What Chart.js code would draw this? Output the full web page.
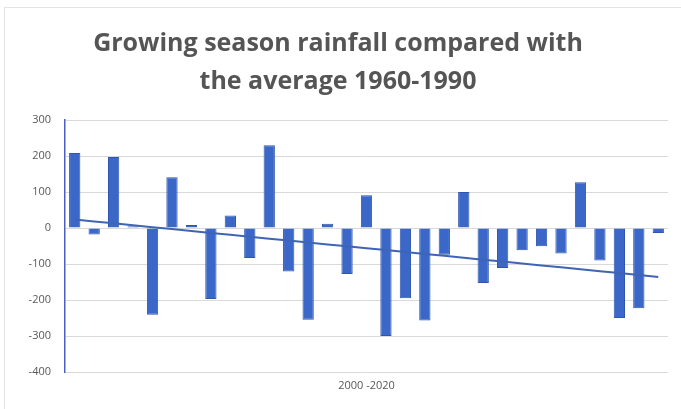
<!DOCTYPE html>
<html>
<head>
<meta charset="utf-8">
<style>
  html, body { margin: 0; padding: 0; background: #fff; }
  #wrap {
    position: absolute; left: 4px; top: 7px; width: 690px; height: 420px;
    border: 1px solid #e3e3e3; box-sizing: border-box;
  }
  canvas { position: absolute; left: 0; top: 0; }
</style>
</head>
<body>
<div id="wrap"></div>
<canvas id="rainChart" width="681" height="409"></canvas>

<script src="https://cdn.jsdelivr.net/npm/chart.js"></script>
<script>
  // seasons shown along the axis (labels are hidden in the original)
  const seasons = [
    "1", "2", "3", "4", "5", "6", "7", "8", "9", "10",
    "11", "12", "13", "14", "15", "16", "17", "18", "19", "20",
    "21", "22", "23", "24", "25", "26", "27", "28", "29", "30", "31",
  ];

  // rainfall difference from the 1960-1990 average (mm)
  const rainfallDiff = [
    208, -18, 197, 5, -241, 141, 8, -197, 35, -83,
    230, -121, -255, 12, -128, 91, -300, -195, -257, -74,
    100, -153, -111, -62, -51, -71, 127, -90, -250, -223, -14,
  ];

  const yTicks = [300, 200, 100, 0, -100, -200, -300, -400];
  const titleLines = ["Growing season rainfall compared with", "the average 1960-1990"];
  const axisTitle = "2000 -2020";

  // least squares trend line, like Excel's linear trendline
  const n = rainfallDiff.length;
  const mx = (n - 1) / 2;
  const my = rainfallDiff.reduce((a, b) => a + b, 0) / n;
  let sxy = 0, sxx = 0;
  rainfallDiff.forEach((v, i) => { sxy += (i - mx) * (v - my); sxx += (i - mx) * (i - mx); });
  const slope = sxy / sxx;
  const trend = rainfallDiff.map((v, i) => my + slope * (i - mx));

  const ctx = document.getElementById("rainChart").getContext("2d");

  new Chart(ctx, {
    data: {
      labels: seasons,
      datasets: [
        {
          type: "line",
          data: trend,
          borderColor: "#3f64b5",
          borderWidth: 2,
          pointRadius: 0,
          order: 0,
        },
        {
          type: "bar",
          data: rainfallDiff,
          backgroundColor: "#3a67c8",
          borderColor: "#2f56ab",
          borderWidth: 1,
          barPercentage: 0.58,
          categoryPercentage: 1,
          order: 1,
        },
      ],
    },
    options: {
      responsive: false,
      animation: false,
      layout: { padding: { left: 8, right: 13, top: 8, bottom: 7 } },
      plugins: {
        legend: { display: false },
        tooltip: { enabled: false },
        title: {
          display: true,
          text: titleLines,
          color: "#555555",
          font: { family: "Open Sans", size: 25, weight: "bold", lineHeight: "38px" },
          padding: { top: 17, bottom: 19 },
        },
      },
      scales: {
        x: {
          grid: { display: false },
          border: { display: false },
          ticks: { display: false },
          afterFit: (axis) => { axis.height = 30; },
          title: {
            display: true,
            text: axisTitle,
            color: "#595959",
            font: { family: "Open Sans", size: 11 },
            padding: { top: 0, bottom: 10 },
          },
        },
        y: {
          min: -400,
          max: 300,
          afterBuildTicks: (axis) => { axis.ticks = yTicks.map((v) => ({ value: v })); },
          afterFit: (axis) => { axis.width = 57; },
          grid: { color: "#d9d9d9", drawTicks: false },
          border: { display: true, color: "#4a5fc0", width: 1.5 },
          ticks: {
            color: "#595959",
            padding: 14,
            font: { family: "Open Sans", size: 11 },
          },
        },
      },
    },
  });
</script>
</body>
</html>
